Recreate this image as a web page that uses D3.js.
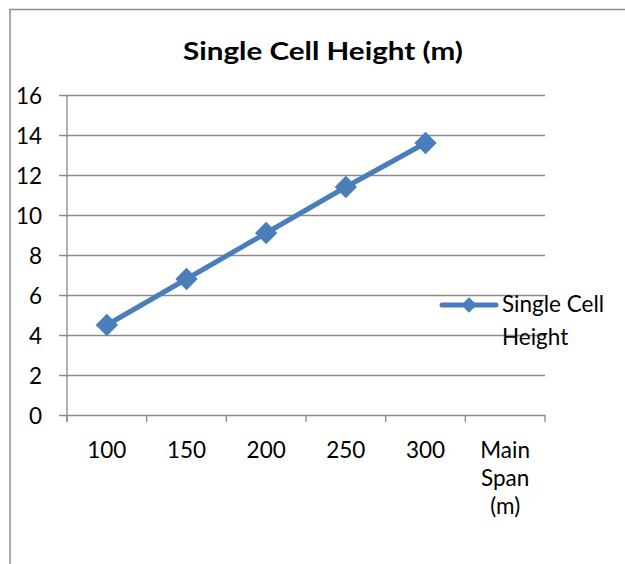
<!DOCTYPE html>
<html>
<head>
<meta charset="utf-8">
<script src="https://cdn.jsdelivr.net/npm/d3@7"></script>
<style>
  html, body { margin: 0; padding: 0; background: #fff; }
  svg { display: block; font-family: Lato, "Open Sans", sans-serif; }
</style>
</head>
<body>
<svg id="chart" width="625" height="564"></svg>
<script>
// Main span categories (the last slot carries the axis caption)
const categories = ["100", "150", "200", "250", "300", "Main Span (m)"];
const spans = ["100", "150", "200", "250", "300"];
const heights = [4.5, 6.8, 9.1, 11.4, 13.6];
const yTicks = [0, 2, 4, 6, 8, 10, 12, 14, 16];
const seriesName = ["Single Cell", "Height"];
const title = "Single Cell Height (m)";

const blue = "#4A7EBB";
const grid = "#8a8a8a";
const fontSize = 22.5;

const svg = d3.select("#chart");

// outer frame (only top and left edges fall inside the view)
svg.append("path")
  .attr("d", "M10,570 L10,9.5 L630,9.5")
  .attr("fill", "none").attr("stroke", "#8c8c8c").attr("stroke-width", 1.5);

const plot = { left: 67, right: 545, top: 95, bottom: 415 };

const x = d3.scaleBand().domain(categories).range([plot.left, plot.right]);
const y = d3.scaleLinear().domain([0, 16]).range([plot.bottom, plot.top]);

// title
svg.append("text")
  .attr("x", 323).attr("y", 60)
  .attr("text-anchor", "middle")
  .attr("font-weight", "bold").attr("font-size", 25)
  .attr("textLength", 280).attr("lengthAdjust", "spacingAndGlyphs")
  .attr("fill", "#000")
  .text(title);

// horizontal gridlines with short ticks on the left
const yAxis = d3.axisLeft(y).tickValues(yTicks).tickSizeOuter(0);
const gy = svg.append("g").attr("transform", `translate(${plot.left},0)`).call(yAxis);
gy.select(".domain").remove();
gy.selectAll(".tick line")
  .attr("x1", -8).attr("x2", plot.right - plot.left)
  .attr("stroke", grid).attr("stroke-width", 1.3);
gy.selectAll(".tick text")
  .attr("x", -25).attr("dy", "0.36em")
  .attr("font-size", fontSize).attr("fill", "#000")
  .attr("font-family", "Lato, 'Open Sans', sans-serif");

// vertical axis line
svg.append("line")
  .attr("x1", plot.left).attr("x2", plot.left)
  .attr("y1", plot.top).attr("y2", plot.bottom + 7)
  .attr("stroke", grid).attr("stroke-width", 1.3);

// category axis: ticks at band edges
const edges = categories.map(c => x(c)).concat([plot.right]);
svg.append("g").selectAll("line").data(edges).join("line")
  .attr("x1", d => d).attr("x2", d => d)
  .attr("y1", plot.bottom).attr("y2", plot.bottom + 7)
  .attr("stroke", grid).attr("stroke-width", 1.3);

// category labels, wrapped by word for the caption
const labels = svg.append("g").attr("font-size", fontSize).attr("fill", "#000");
categories.forEach(c => {
  const words = c.split(" ");
  const t = labels.append("text")
    .attr("x", x(c) + x.bandwidth() / 2)
    .attr("y", 458)
    .attr("text-anchor", "middle");
  words.forEach((w, i) => {
    t.append("tspan")
      .attr("x", x(c) + x.bandwidth() / 2)
      .attr("dy", i === 0 ? 0 : 28)
      .text(w);
  });
});

// series line and diamond markers
const cx = d => x(d) + x.bandwidth() / 2;
const pts = spans.map((s, i) => [cx(s), y(heights[i])]);

svg.append("path")
  .attr("d", d3.line()(pts))
  .attr("fill", "none").attr("stroke", blue)
  .attr("stroke-width", 5).attr("stroke-linejoin", "round").attr("stroke-linecap", "round");

const diamond = d3.symbol().type(d3.symbolDiamond2).size(260);
svg.append("g").selectAll("path").data(pts).join("path")
  .attr("transform", d => `translate(${d[0]},${d[1]})`)
  .attr("d", diamond)
  .attr("fill", blue).attr("stroke", blue).attr("stroke-width", 1.5);

// legend
const lg = svg.append("g");
lg.append("line")
  .attr("x1", 442).attr("x2", 496).attr("y1", 305).attr("y2", 305)
  .attr("stroke", blue).attr("stroke-width", 5).attr("stroke-linecap", "round");
lg.append("path")
  .attr("transform", "translate(469,305)")
  .attr("d", d3.symbol().type(d3.symbolDiamond2).size(115))
  .attr("fill", blue).attr("stroke", blue).attr("stroke-width", 1.5);
const lt = lg.append("text").attr("font-size", fontSize).attr("fill", "#000");
seriesName.forEach((w, i) => {
  lt.append("tspan").attr("x", 502).attr("y", 312 + i * 33).text(w);
});
</script>
</body>
</html>
